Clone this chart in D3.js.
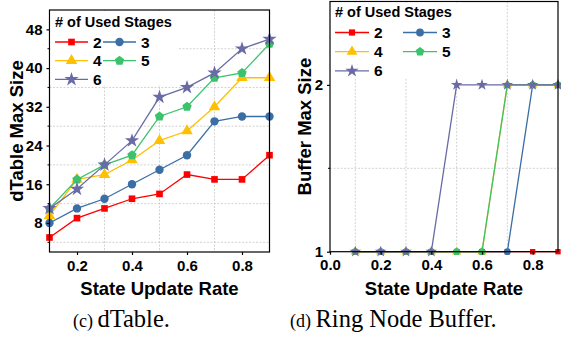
<!DOCTYPE html>
<html>
<head>
<meta charset="utf-8">
<script src="https://cdn.jsdelivr.net/npm/d3@7"></script>
<style>
  body { margin: 0; background: #fff; }
  svg { display: block; }
  text { font-family: "Liberation Sans", Arial, sans-serif; font-weight: bold; fill: #000; }
  .cap { font-family: "Liberation Serif", "Times New Roman", serif; font-weight: normal; }
</style>
</head>
<body>
<svg id="chart" width="561" height="339"></svg>
<script>
// data
const rates = [0.1, 0.2, 0.3, 0.4, 0.5, 0.6, 0.7, 0.8, 0.9];
const stages = ['2', '3', '4', '5', '6'];

const dtable2 = [5, 9, 11, 13, 14, 18, 17, 17, 22];
const dtable3 = [8, 11, 13, 16, 19, 22, 29, 30, 30];
const dtable4 = [9.5, 17, 18, 21, 25, 27, 32, 38, 38];
const dtable5 = [11, 17, 20, 22, 30, 32, 38, 39, 45];
const dtable6 = [11, 15, 20, 25, 34, 36, 39, 44, 46];

const buffer2 = [1, 1, 1, 1, 1, 1, 1, 1, 1];
const buffer3 = [1, 1, 1, 1, 1, 1, 1, 2, 2];
const buffer4 = [1, 1, 1, 1, 1, 1, 2, 2, 2];
const buffer5 = [1, 1, 1, 1, 1, 1, 2, 2, 2];
const buffer6 = [1, 1, 1, 1, 2, 2, 2, 2, 2];

const dtableTicks = [8, 16, 24, 32, 40, 48];
const dtableMinor = [4, 12, 20, 28, 36, 44];
const bufferTicks = [1, 2];
const bufferMinor = [1.5];

const colors = ['#ff0000', '#3a6ea5', '#ffc000', '#3cc26c', '#6a6aa6'];

// pentagon isn't in d3, so make one
const symbolPentagon = {
  draw(ctx, size) {
    const r = Math.sqrt(size / 2.378);
    for (let i = 0; i < 5; i++) {
      const a = -Math.PI / 2 + i * 2 * Math.PI / 5;
      const px = r * Math.cos(a), py = r * Math.sin(a);
      if (i === 0) ctx.moveTo(px, py); else ctx.lineTo(px, py);
    }
    ctx.closePath();
  }
};
const shapes = [d3.symbolSquare, d3.symbolCircle, d3.symbolTriangle, symbolPentagon, d3.symbolStar];
const sizeK = [0.8, 1, 1.05, 1.05, 1.15];

const svg = d3.select('#chart');

function panel(o) {
  const g = svg.append('g');
  const x = d3.scaleLinear().domain(o.xDomain).range([o.x0, o.x1]);
  const y = d3.scaleLinear().domain(o.yDomain).range([o.y1, o.y0]);

  // grid at minor positions
  g.selectAll('.vg').data(o.xMinor).join('line')
    .attr('x1', d => x(d)).attr('x2', d => x(d))
    .attr('y1', o.y0).attr('y2', o.y1)
    .attr('stroke', '#c8c8c8').attr('stroke-width', 0.8).attr('stroke-dasharray', '2,1.5');
  g.selectAll('.hg').data(o.yMinor).join('line')
    .attr('x1', o.x0).attr('x2', o.x1)
    .attr('y1', d => y(d)).attr('y2', d => y(d))
    .attr('stroke', '#c8c8c8').attr('stroke-width', 0.8).attr('stroke-dasharray', '2,1.5');

  // series
  const line = d3.line().x((d, i) => x(rates[i])).y(d => y(d));
  o.series.forEach((vals, k) => {
    g.append('path').datum(vals).attr('d', line)
      .attr('fill', 'none').attr('stroke', colors[k]).attr('stroke-width', 1.3);
    g.selectAll('.m' + k).data(vals).join('path')
      .attr('transform', (d, i) => `translate(${x(rates[i])},${y(d)})`)
      .attr('d', d3.symbol().type(shapes[k]).size(o.msize * sizeK[k]))
      .attr('fill', colors[k]);
  });

  // frame
  g.append('rect').attr('x', o.x0).attr('y', o.y0)
    .attr('width', o.x1 - o.x0).attr('height', o.y1 - o.y0)
    .attr('fill', 'none').attr('stroke', '#000').attr('stroke-width', 1.2);

  // axes
  const ax = g.append('g').attr('transform', `translate(0,${o.y1})`)
    .call(d3.axisBottom(x).tickValues(o.xTicks).tickSize(3).tickSizeOuter(0).tickPadding(5)
      .tickFormat(d3.format('.1f')));
  const ay = g.append('g').attr('transform', `translate(${o.x0},0)`)
    .call(d3.axisLeft(y).tickValues(o.yTicks).tickSize(3).tickSizeOuter(0).tickPadding(4)
      .tickFormat(d3.format('d')));
  [ax, ay].forEach(a => {
    a.select('.domain').remove();
    a.selectAll('line').attr('stroke', '#000').attr('stroke-width', 1.2);
    a.selectAll('text').style('font-size', '15px').style('font-family', 'Liberation Sans, Arial, sans-serif')
      .style('font-weight', 'bold').attr('fill', '#000');
  });
  g.selectAll('.ym').data(o.yMinor).join('line')
    .attr('x1', o.x0 - 2).attr('x2', o.x0).attr('y1', d => y(d)).attr('y2', d => y(d))
    .attr('stroke', '#000');

  // titles
  g.append('text').attr('x', (o.x0 + o.x1) / 2).attr('y', 295)
    .attr('text-anchor', 'middle').style('font-size', '18.5px').text('State Update Rate');
  g.append('text').attr('transform', `translate(${o.ylx},${(o.y0 + o.y1) / 2}) rotate(-90)`)
    .attr('text-anchor', 'middle').style('font-size', '18.5px').text(o.ylabel);

  // legend
  const L = o.leg;
  g.append('rect').attr('x', o.x0 + 1).attr('y', o.y0 + 1)
    .attr('width', L.w).attr('height', L.h).attr('fill', '#fff');
  g.append('text').attr('x', L.x).attr('y', L.ty).style('font-size', '14.5px').text('# of Used Stages');
  stages.forEach((s, k) => {
    const col = k % 2, row = Math.floor(k / 2);
    const lx = L.x + col * L.dx, ly = L.ry + row * L.dy;
    g.append('line').attr('x1', lx).attr('x2', lx + L.len).attr('y1', ly).attr('y2', ly)
      .attr('stroke', colors[k]).attr('stroke-width', 1.3);
    g.append('path').attr('transform', `translate(${lx + L.len / 2},${ly})`)
      .attr('d', d3.symbol().type(shapes[k]).size(o.lsize * sizeK[k])).attr('fill', colors[k]);
    g.append('text').attr('x', lx + L.len + 5).attr('y', ly + 5.5).style('font-size', '15.5px').text(s);
  });
}

panel({
  x0: 49.5, x1: 269.5, y0: 10, y1: 252,
  xDomain: [0.1, 0.9], yDomain: [2, 52],
  xTicks: [0.2, 0.4, 0.6, 0.8], xMinor: [0.3, 0.5, 0.7],
  yTicks: dtableTicks, yMinor: dtableMinor,
  series: [dtable2, dtable3, dtable4, dtable5, dtable6],
  msize: 55, lsize: 55,
  ylabel: 'dTable Max Size', ylx: 23,
  leg: { w: 127, h: 74, x: 55, ty: 27, ry: 42, dy: 18.7, dx: 48, len: 33 }
});

panel({
  x0: 330, x1: 558, y0: 1.5, y1: 251.7,
  xDomain: [0, 0.9], yDomain: [1, 2.5],
  xTicks: [0, 0.2, 0.4, 0.6, 0.8], xMinor: [0.1, 0.3, 0.5, 0.7],
  yTicks: bufferTicks, yMinor: bufferMinor,
  series: [buffer2, buffer3, buffer4, buffer5, buffer6],
  msize: 36, lsize: 48,
  ylabel: 'Buffer Max Size', ylx: 311,
  leg: { w: 130, h: 76, x: 335, ty: 17, ry: 32.5, dy: 19.2, dx: 68, len: 34 }
});

// captions
const cap = svg.append('g');
[['(c)', 'dTable.', 73], ['(d)', 'Ring Node Buffer.', 290]].forEach(c => {
  const t = cap.append('text').attr('class', 'cap').attr('x', c[2]).attr('y', 327);
  t.append('tspan').style('font-size', '18px').text(c[0] + ' ');
  t.append('tspan').style('font-size', '24.5px').text(c[1]);
});
</script>
</body>
</html>
